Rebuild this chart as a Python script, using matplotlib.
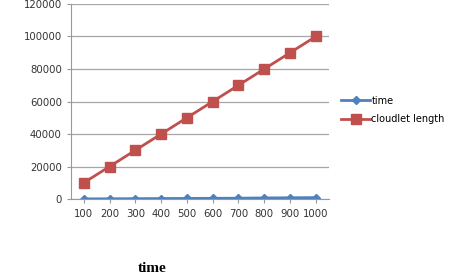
import matplotlib.pyplot as plt

categories = ["100", "200", "300", "400", "500", "600", "700", "800", "900", "1000"]
time_vals = [120, 180, 260, 330, 400, 470, 540, 700, 800, 900]
cloudlet_length = [10000, 20000, 30000, 40000, 50000, 60000, 70000, 80000, 90000, 100000]
y_ticks = [0, 20000, 40000, 60000, 80000, 100000, 120000]

fig = plt.figure(figsize=(4.51, 2.8), dpi=100)
ax = fig.add_axes([0.157, 0.289, 0.572, 0.697])

x = range(len(categories))
ax.plot(x, time_vals, color="#4F81BD", marker="D", markersize=4.5, linewidth=2, label="time")
ax.plot(x, cloudlet_length, color="#C0504D", marker="s", markersize=6.5, linewidth=2, label="cloudlet length")

ax.set_xlim(-0.5, len(categories) - 0.5)
ax.set_ylim(0, 120000)
ax.set_xticks(list(x))
ax.set_xticklabels(categories)
ax.set_yticks(y_ticks)
ax.tick_params(axis="both", labelsize=7.3, colors="#333333", length=3, color="#999999")
ax.tick_params(axis="x", pad=4)

ax.grid(axis="y", color="#a6a6a6", linewidth=0.9)
ax.set_axisbelow(True)
for side in ["top", "right"]:
    ax.spines[side].set_visible(False)
ax.spines["left"].set_color("#999999")
ax.spines["bottom"].set_color("#999999")

fig.legend(loc="upper left", bbox_to_anchor=(0.737, 0.69), frameon=False,
           fontsize=7, handlelength=3.0, handletextpad=0.1, labelspacing=0.9)

fig.text(0.337, 0.04, "time", fontsize=11, fontweight="bold", family="Liberation Serif",
         ha="center", va="center")

fig.savefig("out.png", dpi=100)
plt.close(fig)
